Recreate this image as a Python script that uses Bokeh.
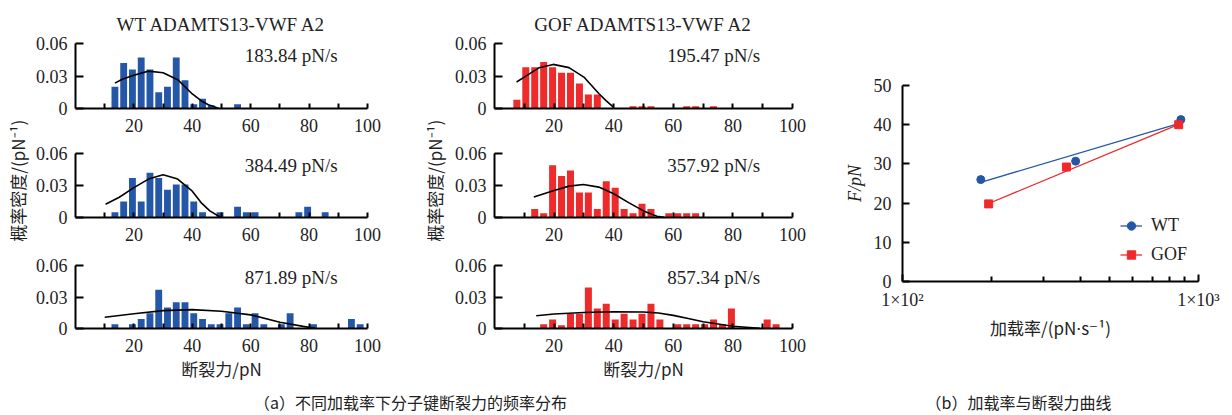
import math
from bokeh.plotting import figure
from bokeh.models import Range1d, FixedTicker, Label, Legend, LegendItem, InlineStyleSheet
from bokeh.layouts import row, column
from bokeh.embed import file_html
from bokeh.resources import INLINE

SERIF = "Liberation Serif"
CJK = "Noto Sans CJK SC"
BLUE = "#2457a7"
RED = "#ee2a2a"
INK = "#222222"
FAMILY_CSS = "'Liberation Serif', 'Noto Sans CJK SC', serif"

# ---------------- data ----------------
wt_rates = [183.84, 384.49, 871.89]
gof_rates = [195.47, 357.92, 857.34]

wt1_x = [13.5, 16.5, 19.5, 22.5, 25.5, 28.5, 31.5, 34.5, 37.5, 40.5, 43.5, 46.5, 55.5]
wt1_h = [0.020, 0.042, 0.036, 0.047, 0.036, 0.015, 0.020, 0.047, 0.026, 0.004, 0.009, 0.003, 0.004]
wt1_cx = [13.5, 16, 20, 25, 30, 35, 40, 43, 45.5, 49]
wt1_cy = [0.0234, 0.027, 0.0306, 0.0345, 0.033, 0.0266, 0.0134, 0.0072, 0.0034, 0.0003]

wt2_x = [13.5, 16.5, 19.5, 22.5, 25.5, 28.5, 31.5, 34.5, 37.5, 40.5, 43.5, 49.5, 55.5, 58.5, 61.5, 76.5, 79.5, 85.5]
wt2_h = [0.005, 0.015, 0.037, 0.015, 0.042, 0.037, 0.026, 0.031, 0.031, 0.015, 0.005, 0.005, 0.010, 0.005, 0.005, 0.005, 0.010, 0.005]
wt2_cx = [10.3, 15, 20, 25, 30, 35, 40, 43, 46, 49.5]
wt2_cy = [0.0124, 0.019, 0.028, 0.036, 0.040, 0.036, 0.0247, 0.014, 0.0062, 0.0005]

wt3_x = [13.5, 19.5, 22.5, 25.5, 28.5, 31.5, 34.5, 37.5, 40.5, 43.5, 46.5, 49.5, 52.5, 55.5, 58.5, 61.5, 64.5, 70.5, 73.5, 81.5, 94.5, 97.5]
wt3_h = [0.004, 0.004, 0.009, 0.0145, 0.037, 0.020, 0.025, 0.025, 0.0145, 0.009, 0.004, 0.004, 0.0145, 0.020, 0.004, 0.0145, 0.004, 0.004, 0.0145, 0.004, 0.009, 0.004]
wt3_cx = [10, 20, 30, 40, 50, 60, 70, 78, 82]
wt3_cy = [0.0107, 0.014, 0.017, 0.018, 0.0165, 0.013, 0.006, 0.002, 0.0003]

gof1_x = [7.5, 10.5, 13.5, 16.5, 19.5, 22.5, 25.5, 28.5, 31.5, 34.5, 46.5, 49.5, 52.5, 64.5, 67.5, 73.5]
gof1_h = [0.008, 0.038, 0.038, 0.043, 0.038, 0.033, 0.033, 0.023, 0.013, 0.013, 0.002, 0.002, 0.002, 0.002, 0.002, 0.002]
gof1_cx = [7.4, 10, 15, 19.7, 25, 30, 35, 37.5, 40]
gof1_cy = [0.0245, 0.029, 0.0377, 0.0407, 0.0377, 0.029, 0.0138, 0.007, 0.001]

gof2_x = [13.5, 16.5, 19.5, 22.5, 25.5, 28.5, 31.5, 34.5, 37.5, 40.5, 43.5, 46.5, 49.5, 52.5, 58.5, 61.5, 64.5, 67.5]
gof2_h = [0.008, 0.004, 0.049, 0.039, 0.044, 0.0235, 0.0235, 0.008, 0.034, 0.028, 0.008, 0.004, 0.013, 0.008, 0.004, 0.004, 0.004, 0.004]
gof2_cx = [13.2, 20, 25, 29.8, 35, 40, 45, 50, 54.5, 57]
gof2_cy = [0.0192, 0.0254, 0.0294, 0.031, 0.0285, 0.0223, 0.0139, 0.0062, 0.0012, 0.0002]

gof3_x = [16.5, 19.5, 22.5, 25.5, 28.5, 31.5, 34.5, 37.5, 40.5, 43.5, 46.5, 49.5, 52.5, 55.5, 61.5, 64.5, 67.5, 70.5, 73.5, 76.5, 79.5, 91.5, 94.5]
gof3_h = [0.004, 0.0086, 0.003, 0.014, 0.014, 0.039, 0.019, 0.0235, 0.0086, 0.014, 0.0086, 0.014, 0.0235, 0.0086, 0.004, 0.004, 0.004, 0.004, 0.0086, 0.004, 0.019, 0.0086, 0.004]
gof3_cx = [14, 20, 30, 40, 50, 55, 60, 65, 70, 80, 89]
gof3_cy = [0.0122, 0.0138, 0.0153, 0.016, 0.0157, 0.0148, 0.0125, 0.0095, 0.0065, 0.0022, 0.0002]

wt_force = [26.0, 30.7, 41.3]
gof_force = [19.8, 29.2, 40.0]
wt_fit_x = [183.84, 850.0]
wt_fit_y = [25.3, 40.2]
gof_fit_x = [195.47, 857.34]
gof_fit_y = [19.9, 40.1]

x_ticks = [20, 40, 60, 80, 100]
x_minor = [10, 30, 50, 70, 90]
y_ticks = [0, 0.03, 0.06]
y_tick_text = ["0", "0.03", "0.06"]
b_y_ticks = [0, 10, 20, 30, 40, 50]
b_x_ticks = [100, 1000]
b_x_text = ["1×10²", "1×10³"]
b_x_minor = [200, 300, 400, 500, 600, 700, 800, 900]

ROWS = [(141, 43, 33), (111, 12, 35), (133, 13, 57)]


def css():
    return [InlineStyleSheet(css="svg text { font-family: %s !important; }" % FAMILY_CSS)]


def base_axes(p):
    p.grid.visible = False
    p.outline_line_color = None
    p.background_fill_color = "white"
    p.border_fill_color = "white"
    for ax in p.axis:
        ax.axis_line_width = 2
        ax.axis_line_color = "black"
        ax.major_tick_line_width = 2
        ax.minor_tick_line_width = 2
        ax.major_tick_line_color = "black"
        ax.minor_tick_line_color = "black"
        ax.major_label_text_font = SERIF
        ax.major_label_text_font_size = "18px"
        ax.major_label_text_color = INK


def hist(width, bl, br, ri, xs, hs, cx, cy, color, rate, title=None, xlabel=None):
    h, bt, bb = ROWS[ri]
    p = figure(width=width, height=h, output_backend="svg", toolbar_location=None,
               x_range=Range1d(0, 100), y_range=Range1d(0, 0.06),
               min_border_left=bl, min_border_right=br, min_border_top=bt,
               min_border_bottom=bb, title=title,
               styles={"font-family": FAMILY_CSS}, stylesheets=css())
    p.vbar(x=xs, top=hs, width=2.35, fill_color=color, line_color=None)
    p.line(cx, cy, line_color="black", line_width=1.6)
    p.add_layout(Label(x=58.0, y=0.049, text=f"{rate:.2f} pN/s", text_font=SERIF,
                       text_font_size="19px", text_baseline="middle", text_color=INK))
    base_axes(p)
    p.xaxis.ticker = FixedTicker(ticks=x_ticks, minor_ticks=x_minor)
    p.xaxis.major_tick_in = 5
    p.xaxis.major_tick_out = 0
    p.xaxis.minor_tick_in = 5
    p.xaxis.minor_tick_out = 0
    p.xaxis.major_label_standoff = 10
    p.yaxis.ticker = FixedTicker(ticks=y_ticks)
    p.yaxis.major_label_overrides = dict(zip(y_ticks, y_tick_text))
    p.yaxis.major_tick_in = 8
    p.yaxis.major_tick_out = 0
    p.yaxis.major_label_standoff = 8
    if title:
        p.title.align = "center"
        p.title.text_font = SERIF
        p.title.text_font_size = "19px"
        p.title.text_font_style = "normal"
        p.title.text_color = INK
        p.title.standoff = 17
    if xlabel:
        p.xaxis.axis_label = xlabel
        p.xaxis.axis_label_text_font = CJK
        p.xaxis.axis_label_text_font_size = "17px"
        p.xaxis.axis_label_text_font_style = "normal"
        p.xaxis.axis_label_text_color = INK
        p.xaxis.axis_label_standoff = 1
    return p


def text_fig(width, height, text, fx, fy, angle=0.0, size="17px"):
    p = figure(width=width, height=height, output_backend="svg", toolbar_location=None,
               x_range=Range1d(0, 1), y_range=Range1d(0, 1), min_border=0,
               x_axis_location=None, y_axis_location=None)
    p.grid.visible = False
    p.outline_line_color = None
    p.add_layout(Label(x=fx, y=fy, text=text, angle=angle, text_align="center",
                       text_baseline="middle", text_font=CJK, text_font_size=size,
                       text_color=INK))
    return p


LW, LBL, LBR = 390, 45, 53
h1 = hist(LW, LBL, LBR, 0, wt1_x, wt1_h, wt1_cx, wt1_cy, BLUE, wt_rates[0], title="WT ADAMTS13-VWF A2")
h2 = hist(LW, LBL, LBR, 1, wt2_x, wt2_h, wt2_cx, wt2_cy, BLUE, wt_rates[1])
h3 = hist(LW, LBL, LBR, 2, wt3_x, wt3_h, wt3_cx, wt3_cy, BLUE, wt_rates[2], xlabel="断裂力/pN")

RW, RBL, RBR = 392, 46, 48
g1 = hist(RW, RBL, RBR, 0, gof1_x, gof1_h, gof1_cx, gof1_cy, RED, gof_rates[0], title="GOF ADAMTS13-VWF A2")
g2 = hist(RW, RBL, RBR, 1, gof2_x, gof2_h, gof2_cx, gof2_cy, RED, gof_rates[1])
g3 = hist(RW, RBL, RBR, 2, gof3_x, gof3_h, gof3_cx, gof3_cy, RED, gof_rates[2], xlabel="断裂力/pN")

COLH = sum(r[0] for r in ROWS)
ylab_l = text_fig(30, COLH, "概率密度/(pN⁻¹)", 0.567, 1 - 187 / COLH, angle=math.pi / 2)
ylab_r = text_fig(28, COLH, "概率密度/(pN⁻¹)", 0.5, 1 - 187 / COLH, angle=math.pi / 2)

pb = figure(width=390, height=COLH, output_backend="svg", toolbar_location=None,
            x_axis_type="log", x_range=Range1d(100, 1000), y_range=Range1d(0, 50),
            min_border_left=62, min_border_right=32, min_border_top=85, min_border_bottom=104,
            styles={"font-family": FAMILY_CSS}, stylesheets=css())
wl = pb.line(wt_fit_x, wt_fit_y, line_color=BLUE, line_width=1.3)
ws = pb.scatter(wt_rates, wt_force, marker="circle", size=8, fill_color=BLUE, line_color=BLUE)
gl = pb.line(gof_fit_x, gof_fit_y, line_color=RED, line_width=1.3)
gs = pb.scatter(gof_rates, gof_force, marker="square", size=8, fill_color=RED, line_color=RED)
base_axes(pb)
pb.xaxis.ticker = FixedTicker(ticks=b_x_ticks, minor_ticks=b_x_minor)
pb.xaxis.major_label_overrides = dict(zip(b_x_ticks, b_x_text))
pb.xaxis.major_tick_in = 7
pb.xaxis.major_tick_out = 0
pb.xaxis.minor_tick_in = 5
pb.xaxis.minor_tick_out = 0
pb.xaxis.major_label_standoff = 8
pb.xaxis.axis_label = "加载率/(pN⋅s⁻¹)"
pb.xaxis.axis_label_text_font = CJK
pb.xaxis.axis_label_text_font_size = "17px"
pb.xaxis.axis_label_text_font_style = "normal"
pb.xaxis.axis_label_text_color = INK
pb.xaxis.axis_label_standoff = 2
pb.yaxis.ticker = FixedTicker(ticks=b_y_ticks)
pb.yaxis.major_tick_in = 7
pb.yaxis.major_tick_out = 0
pb.yaxis.major_label_standoff = 11
pb.yaxis.axis_label = "F/pN"
pb.yaxis.axis_label_text_font = SERIF
pb.yaxis.axis_label_text_font_size = "18px"
pb.yaxis.axis_label_text_font_style = "italic"
pb.yaxis.axis_label_text_color = INK
pb.yaxis.axis_label_standoff = 6
legend = Legend(items=[LegendItem(label="WT", renderers=[wl, ws]),
                       LegendItem(label="GOF", renderers=[gl, gs])],
                location=(218, 16), padding=0, margin=0, spacing=8,
                label_height=21, glyph_height=21, glyph_width=22, label_standoff=9,
                background_fill_alpha=0, border_line_color=None)
legend.label_text_font = SERIF
legend.label_text_font_size = "18px"
legend.label_text_color = INK
pb.add_layout(legend)

cap_a = text_fig(840, 30, "（a）不同加载率下分子键断裂力的频率分布", 410 / 840, 0.45, size="16px")
cap_b = text_fig(390, 30, "（b）加载率与断裂力曲线", (1018 - 840) / 390, 0.45, size="16px")

layout = column(
    row(ylab_l, column(h1, h2, h3), ylab_r, column(g1, g2, g3), pb),
    row(cap_a, cap_b),
)

open("out.html", "w").write(file_html(layout, INLINE))
